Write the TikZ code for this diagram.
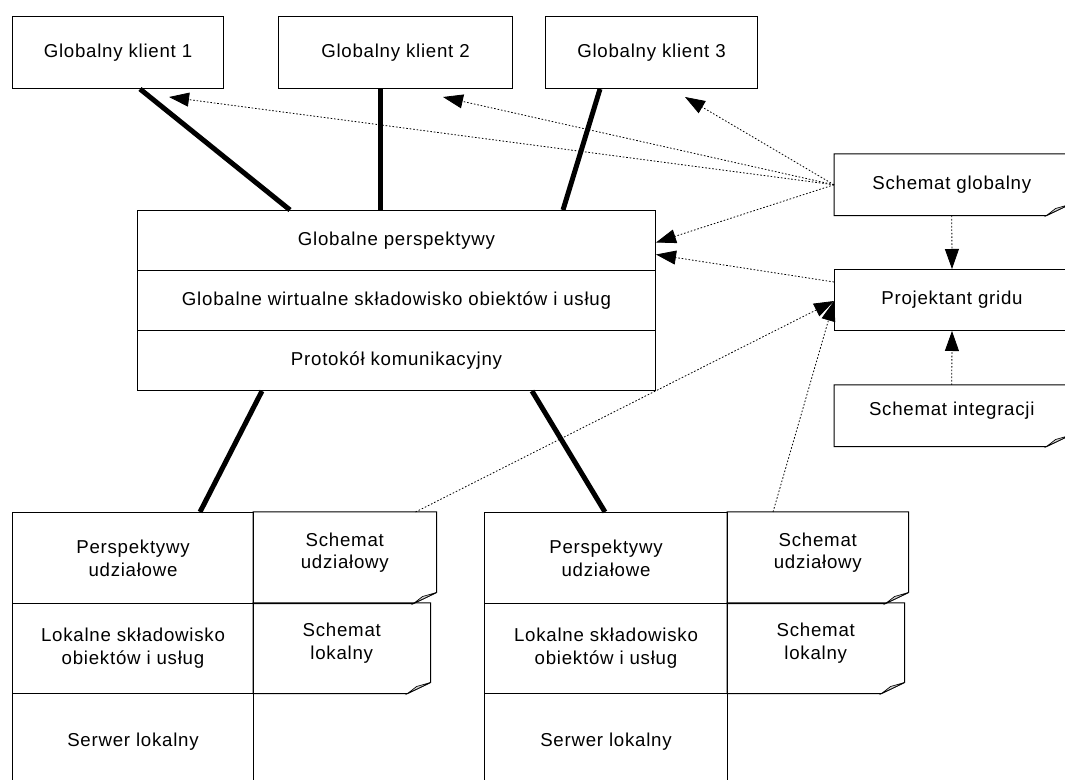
\documentclass[tikz,border=0pt]{standalone}
\usepackage{fontspec}
\setmainfont{Liberation Sans}[LetterSpace=4]
\usetikzlibrary{arrows.meta,calc}

% outline of a document box: folded lower right corner with a small curl
\newcommand\docbox[1]{%
  \draw[line width=0.75pt] (#1.north west) -- (#1.north east)
    -- ($(#1.south east)+(0,-11)$) -- ($(#1.south east)+(-23,0)$)
    -- (#1.south west) -- cycle;
  \filldraw[line width=0.5pt, fill=gray!35] ($(#1.south east)+(0,-11)$)
    -- ($(#1.south east)+(-14,-7)$) -- ($(#1.south east)+(-23,0)$) -- cycle;}

\begin{document}
\begin{tikzpicture}[x=0.75pt,y=-0.75pt,
  every node/.style={font=\fontsize{14}{17}\selectfont},
  % a cell spanning left/top/right/bottom, in pixel units
  span/.style args={#1/#2/#3/#4}{at={(#1,#2)}, anchor=north west,
    minimum width={(#3-#1)*0.75pt}, minimum height={(#4-#2)*0.75pt}},
  box/.style={draw, line width=0.75pt, inner sep=0pt, align=center, span=#1},
  doc/.style={draw=none, inner sep=0pt, align=center, span=#1},
  % two-line caption of a document cell, set a little above its middle
  doctext/.style={label={[align=center, yshift=3.75pt]center:{#1}}},
  bus/.style={line width=3.75pt},
  dotref/.style={line width=0.6pt, dash pattern=on 1.2pt off 1.4pt,
    -{Triangle[length=15pt,width=10.5pt]}},
]
\useasboundingbox (0,0) rectangle (1065,780);
\clip (0,0) rectangle (1065,780);
\fill[white] (0,0) rectangle (1065,780);

% global clients
\node[box=12/16/223/88] (gk1) {Globalny klient 1};
\node[box=278/16/512/88] (gk2) {Globalny klient 2};
\node[box=545/16/757/88] (gk3) {Globalny klient 3};

% global layer
\node[box=137/210/655/270] (mp) {Globalne perspektywy};
\node[box=137/270/655/330] (mw) {Globalne wirtualne składowisko obiektów i usług};
\node[box=137/330/655/390] (mk) {Protokół komunikacyjny};

% schemas on the right
\node[doc=834/154/1069/215] (sg) {Schemat globalny};
\node[box=834/269/1069/330] (pg) {Projektant gridu};
\node[doc=834/385/1069/446, doctext={Schemat integracji}] (si) {};
\docbox{sg}
\docbox{si}

% local site, left
\node[box=12/512/253/603] (pu1) {Perspektywy\\udziałowe};
\node[doc=253/512/436/603, doctext={Schemat\\udziałowy}] (su1) {};
\node[box=12/603/253/693] (lo1) {Lokalne składowisko\\obiektów i usług};
\node[doc=253/603/430/693, doctext={Schemat\\lokalny}] (sl1) {};
\node[box=12/693/253/790] (sv1) {Serwer lokalny};
\docbox{su1}
\docbox{sl1}

% local site, right
\node[box=484/512/727/603] (pu2) {Perspektywy\\udziałowe};
\node[doc=727/512/908/603, doctext={Schemat\\udziałowy}] (su2) {};
\node[box=484/603/727/693] (lo2) {Lokalne składowisko\\obiektów i usług};
\node[doc=727/603/904/693, doctext={Schemat\\lokalny}] (sl2) {};
\node[box=484/693/727/790] (sv2) {Serwer lokalny};
\docbox{su2}
\docbox{sl2}

% communication links
\draw[bus] ($(gk1.south west)+(128,0)$) -- ($(mp.north west)+(153,0)$);
\draw[bus] ($(gk2.south west)+(102,0)$) -- ($(mp.north west)+(243,0)$);
\draw[bus] ($(gk3.south west)+(55,0)$) -- ($(mp.north west)+(426,0)$);
\draw[bus] ($(mk.south west)+(125,0)$) -- ($(pu1.north west)+(188,0)$);
\draw[bus] ($(mk.south west)+(395,0)$) -- ($(pu2.north west)+(121,0)$);

% schema references
\draw[dotref] (sg.west) -- ($(gk1.south east)+(-55,8)$);
\draw[dotref] (sg.west) -- ($(gk2.south west)+(165,8)$);
\draw[dotref] (sg.west) -- ($(gk3.south west)+(140,8)$);
\draw[dotref] (sg.west) -- ($(mp.east)+(0,2)$);
\draw[dotref] ($(pg.north west)+(0,13)$) -- ($(mp.east)+(0,14)$);
\draw[dotref] (sg.south) -- (pg.north);
\draw[dotref] (si.north) -- (pg.south);
\draw[dotref] ($(su1.north east)+(-21,0)$) -- ($(pg.south west)+(0,-30)$);
\draw[dotref] ($(su2.north west)+(46,0)$) -- ($(pg.south west)+(0,-30)$);
\end{tikzpicture}
\end{document}
